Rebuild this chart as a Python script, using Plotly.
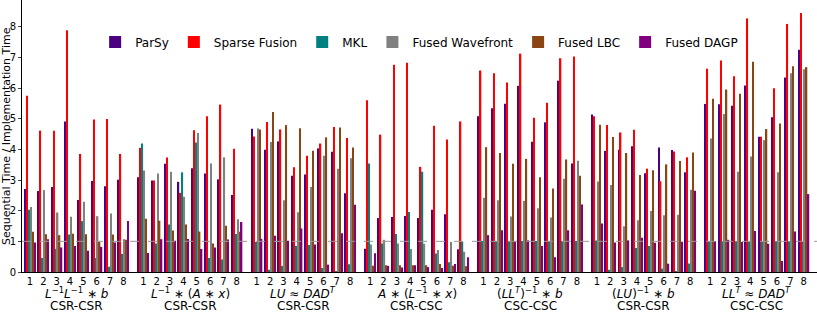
import plotly.graph_objects as go

series_names = ["ParSy", "Sparse Fusion", "MKL", "Fused Wavefront", "Fused LBC", "Fused DAGP"]
series_colors = ["#4B0082", "#FF0000", "#008080", "#808080", "#8B4513", "#800080"]

group_labels = ["<i>L</i><sup>−1</sup><i>L</i><sup>−1</sup> ∗ <i>b</i>",
                "<i>L</i><sup>−1</sup> ∗ (<i>A</i> ∗ <i>x</i>)",
                "<i>LU</i> ≈ <i>DAD</i><sup><i>T</i></sup>",
                "<i>A</i> ∗ (<i>L</i><sup>−1</sup> ∗ <i>x</i>)",
                "(<i>LL</i><sup><i>T</i></sup>)<sup>−1</sup> ∗ <i>b</i>",
                "(<i>LU</i>)<sup>−1</sup> ∗ <i>b</i>",
                "<i>LL</i><sup><i>T</i></sup> ≈ <i>DAD</i><sup><i>T</i></sup>"]
group_formats = ["CSR-CSR", "CSR-CSR", "CSR-CSR", "CSR-CSC", "CSC-CSC", "CSR-CSR", "CSC-CSC"]
sub_labels = ["1", "2", "3", "4", "5", "6", "7", "8"]
y_title = "Sequential Time / Implementation Time"

# values per series: 7 groups x 8 matrices
parsy = [
    [2.71, 2.64, 2.77, 4.91, 2.35, 2.97, 2.80, 3.01],
    [3.09, 2.98, 3.53, 2.94, 3.38, 3.21, 3.02, 2.51],
    [4.67, 3.99, 4.26, 3.14, 3.18, 4.03, 3.92, 2.57],
    [0.76, 1.76, 1.79, 1.83, 1.76, 2.03, 1.88, 0.74],
    [5.08, 5.34, 5.49, 6.07, 4.25, 4.88, 6.24, 3.54],
    [5.14, 3.95, 3.99, 4.10, 3.22, 4.06, 3.98, 3.25],
    [5.48, 5.47, 5.42, 6.08, 4.41, 5.05, 6.34, 7.25],
]
sparse_fusion = [
    [5.75, 4.61, 4.61, 7.88, 3.85, 4.97, 4.99, 3.85],
    [4.05, 2.98, 3.73, 2.58, 4.62, 5.08, 5.46, 4.02],
    [4.42, 4.89, 4.65, 3.42, 3.79, 4.19, 4.73, 4.37],
    [5.60, 4.48, 6.76, 6.82, 3.43, 4.77, 4.32, 4.91],
    [6.57, 6.48, 6.18, 7.12, 5.03, 5.52, 6.97, 7.03],
    [5.08, 4.79, 4.55, 4.64, 3.37, 2.96, 3.93, 3.74],
    [6.63, 6.90, 6.38, 8.27, 4.41, 5.99, 8.09, 8.45],
]
mkl = [
    [2.03, 0.46, 0.76, 1.22, 1.66, 0.46, 0.17, 0.59],
    [4.19, 0.93, 1.55, 3.25, 4.22, 0.46, 0.41, 1.24],
    [0.98, 0.07, 0.20, 0.85, 0.88, 0.13, 0.02, 0.25],
    [3.54, 0.93, 1.24, 1.96, 3.27, 0.60, 0.32, 0.99],
    [1.01, 1.01, 1.01, 1.01, 1.01, 1.01, 1.01, 1.01],
    [1.03, 0.07, 0.16, 0.78, 0.85, 0.11, 0.02, 0.28],
    [1.00, 1.00, 1.00, 1.00, 1.00, 1.00, 1.00, 1.00],
]
fused_wavefront = [
    [2.12, 2.67, 1.94, 1.80, 2.29, 1.82, 1.91, 1.07],
    [3.31, 3.21, 3.27, 2.45, 4.53, 3.54, 3.74, 1.72],
    [4.68, 4.24, 2.34, 1.95, 2.77, 3.79, 3.37, 3.71],
    [0.90, 1.05, 0.93, 0.75, 0.92, 0.72, 0.98, 0.66],
    [2.42, 2.34, 1.81, 2.32, 2.08, 1.78, 3.04, 3.63],
    [2.95, 2.84, 1.49, 1.69, 1.99, 1.85, 1.87, 2.68],
    [4.35, 5.15, 3.27, 3.77, 4.30, 3.25, 6.48, 6.61],
]
fused_lbc = [
    [1.31, 1.23, 1.20, 1.25, 1.23, 0.98, 1.22, 1.05],
    [1.74, 1.67, 1.35, 1.55, 1.32, 0.93, 1.51, 1.31],
    [4.65, 5.22, 4.79, 4.69, 3.95, 4.39, 4.71, 4.06],
    [0.20, 0.22, 0.22, 0.22, 0.22, 0.26, 0.20, 0.19],
    [4.07, 3.88, 3.53, 3.69, 3.09, 2.72, 3.67, 3.14],
    [4.80, 4.40, 3.88, 3.16, 3.32, 3.51, 3.62, 3.90],
    [5.65, 5.95, 5.81, 6.86, 4.66, 4.84, 6.71, 6.68],
]
fused_dagp = [
    [0.96, 1.07, 0.80, 0.85, 0.69, 0.82, 0.96, 1.66],
    [0.62, 1.07, 1.02, 1.08, 0.75, 0.80, 1.06, 1.63],
    [1.08, 1.18, 1.02, 1.42, 0.90, 0.24, 1.26, 2.19],
    [0.61, 0.20, 0.15, 0.22, 0.16, 0.13, 0.26, 0.48],
    [1.20, 1.36, 0.99, 1.03, 0.85, 0.48, 1.36, 2.20],
    [1.58, 0.96, 1.03, 1.12, 0.95, 0.27, 0.99, 2.65],
    [1.00, 1.05, 0.98, 1.34, 0.92, 0.36, 1.32, 2.54],
]
all_series = [parsy, sparse_fusion, mkl, fused_wavefront, fused_lbc, fused_dagp]
baseline = 1.0

GROUP_STEP = 8.5
xs = []
for g in range(len(group_labels)):
    for s in range(len(sub_labels)):
        xs.append(g * GROUP_STEP + s)

fig = go.Figure()
for name, color, data in zip(series_names, series_colors, all_series):
    flat = [v for row in data for v in row]
    fig.add_trace(go.Bar(x=xs, y=flat, name=name, marker_color=color,
                         marker_line_width=0))

fig.add_hline(y=baseline, line_dash="dash", line_color="#999999", line_width=1)

annotations = []
for g, (lab, fmt) in enumerate(zip(group_labels, group_formats)):
    cx = g * GROUP_STEP + 3.5
    annotations.append(dict(x=cx, y=0, xref="x", yref="paper", text=lab, showarrow=False,
                            yanchor="middle", yshift=-21, font=dict(size=12, color="black")))
    annotations.append(dict(x=cx, y=0, xref="x", yref="paper", text=fmt, showarrow=False,
                            yanchor="middle", yshift=-34, font=dict(size=12, color="black")))
annotations.append(dict(x=0, y=0.5, xref="paper", yref="paper", text=y_title,
                        showarrow=False, textangle=-90, xanchor="center", yanchor="middle",
                        xshift=-16, font=dict(size=11, color="black")))

fig.update_layout(
    width=817, height=312,
    margin=dict(l=22, r=0, t=0, b=40, autoexpand=False),
    paper_bgcolor="white", plot_bgcolor="white",
    font=dict(family="DejaVu Sans", size=11, color="black"),
    barmode="group", bargap=0.12, bargroupgap=0.3,
    showlegend=True,
    legend=dict(orientation="h", x=0.092, y=0.846, xanchor="left", yanchor="middle",
                font=dict(size=12), bgcolor="rgba(0,0,0,0)", itemwidth=30),
    annotations=annotations,
    xaxis=dict(range=[-0.6, 59.0], tickvals=xs, ticktext=sub_labels * len(group_labels),
               showline=True, linecolor="black", linewidth=1, ticks="",
               tickfont=dict(size=10), showgrid=False, zeroline=False),
    yaxis=dict(range=[0, 8.87], dtick=1, showline=True, linecolor="black", linewidth=1,
               ticks="outside", ticklen=3, tickfont=dict(size=10), showgrid=False,
               zeroline=False),
)

fig.write_html("out.html", config={"displayModeBar": False},
               post_script="document.body.style.margin='0';document.body.style.padding='0';")
